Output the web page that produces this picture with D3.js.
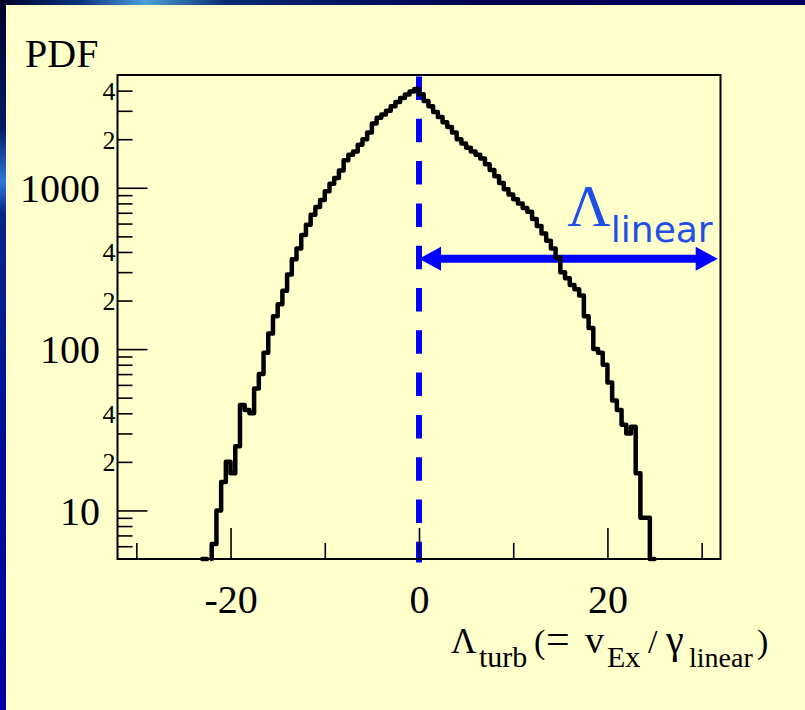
<!DOCTYPE html>
<html>
<head>
<meta charset="utf-8">
<script src="https://cdn.jsdelivr.net/npm/d3@7"></script>
<style>
  html, body { margin: 0; padding: 0; background: #ffffcc; }
  svg { display: block; }
</style>
</head>
<body>
<svg id="chart" width="805" height="710"></svg>
<script>
// Histogram of the turbulent shearing rate, first bin edge and bin width
const lambdaStart = -23;
const binWidth = 0.5;
// Counts per bin (PDF), bins from -23 to 25
const pdfCounts = [
  5, 0, 6.2, 10, 15, 20, 17, 25, 45, 42,
  40, 57, 70, 95, 125, 160, 190, 230, 290, 360,
  420, 510, 590, 680, 760, 840, 950, 1060, 1150, 1280,
  1480, 1600, 1680, 1850, 2000, 2200, 2500, 2720, 2850, 3000,
  3200, 3400, 3600, 3780, 3950, 4100,
  3800, 3450, 3200, 2950, 2750, 2550, 2380, 2200, 2000, 1880,
  1770, 1680, 1600, 1520, 1400, 1290, 1180, 1070, 980, 910,
  850, 800, 750, 710, 640, 580, 520, 470, 420, 370,
  300, 275, 250, 235, 215, 160, 135, 100, 95, 80,
  62, 48, 42, 34, 30, 33, 17, 9, 9, 5
];

// Axis ranges and tick values
const xDomain = [-32, 32];
const yDomain = [5, 5000];
const xTicksMajor = [-20, 0, 20];
const xTicksMinor = [-30, -10, 10, 30];
const yDecades = [10, 100, 1000];
const yMinorDigits = [2, 3, 4, 5, 6, 7, 8, 9];
const yLabelledDigits = [2, 4];

// Reference line at zero and the linear-growth-rate width
const zeroLambda = 0;
const linearSpan = [0, 31.7];
const linearSpanLevel = 363;

const svg = d3.select("#chart");
const W = 805, H = 710;
const frame = { left: 117.5, right: 720.5, top: 75, bottom: 559 };

const x = d3.scaleLinear().domain(xDomain).range([frame.left, frame.right]);
const y = d3.scaleLog().domain(yDomain).range([frame.bottom, frame.top]);

// ---- slide background with dark blue edges ----
const defs = svg.append("defs");
const gl = defs.append("linearGradient").attr("id", "edgeLeft")
  .attr("x1", 0).attr("y1", 0).attr("x2", 0).attr("y2", 1);
[[0, "#000028"], [0.18, "#001a66"], [0.255, "#2f78d8"], [0.3, "#06268a"], [0.6, "#00109a"], [1, "#0000a8"]]
  .forEach(([o, c]) => gl.append("stop").attr("offset", o).attr("stop-color", c));
const gt = defs.append("linearGradient").attr("id", "edgeTop")
  .attr("x1", 0).attr("y1", 0).attr("x2", 1).attr("y2", 0);
[[0, "#000028"], [0.1, "#0a3480"], [0.18, "#4aa0d8"], [0.28, "#0a2a70"], [0.6, "#000050"], [1, "#000060"]]
  .forEach(([o, c]) => gt.append("stop").attr("offset", o).attr("stop-color", c));

svg.append("rect").attr("width", W).attr("height", H).attr("fill", "#ffffcc");
svg.append("rect").attr("x", 0).attr("y", 0).attr("width", W).attr("height", 5).attr("fill", "url(#edgeTop)");
svg.append("rect").attr("x", 0).attr("y", 0).attr("width", 6).attr("height", H).attr("fill", "url(#edgeLeft)");

// ---- dashed reference line at zero ----
svg.append("line")
  .attr("x1", x(zeroLambda)).attr("x2", x(zeroLambda))
  .attr("y1", frame.top + 1.5).attr("y2", frame.bottom + 3.5)
  .attr("stroke", "#0000ff").attr("stroke-width", 6)
  .attr("stroke-dasharray", "23.5 18.8");

// ---- double-headed arrow for the linear width ----
const ay = y(linearSpanLevel);
const ax0 = x(linearSpan[0]), ax1 = x(linearSpan[1]);
const headLen = 22, headHalf = 12;
svg.append("line")
  .attr("x1", ax0 + headLen - 2).attr("x2", ax1 - headLen + 2)
  .attr("y1", ay).attr("y2", ay)
  .attr("stroke", "#0000ff").attr("stroke-width", 8);
svg.append("path")
  .attr("d", `M${ax0},${ay} L${ax0 + headLen},${ay - headHalf} L${ax0 + headLen},${ay + headHalf} Z`)
  .attr("fill", "#0000ff");
svg.append("path")
  .attr("d", `M${ax1},${ay} L${ax1 - headLen},${ay - headHalf} L${ax1 - headLen},${ay + headHalf} Z`)
  .attr("fill", "#0000ff");

const lin = svg.append("text")
  .attr("x", ax1 - 5).attr("y", ay - 32.5)
  .attr("text-anchor", "end")
  .attr("fill", "#1f4fe6");
lin.append("tspan")
  .attr("font-family", "'Liberation Serif', 'Times New Roman', serif")
  .attr("font-size", 60).text("Λ");
lin.append("tspan")
  .attr("font-family", "'DejaVu Sans', Verdana, sans-serif")
  .attr("font-size", 36).attr("dy", 15.7).text("linear");

// ---- histogram as a step line ----
const bins = pdfCounts.map((v, i) => ({
  lo: lambdaStart + i * binWidth,
  hi: lambdaStart + (i + 1) * binWidth,
  v
}));
const pts = [];
bins.forEach((b, i) => {
  if (b.v <= 0) { pts.push(null); return; }
  const prev = bins[i - 1], next = bins[i + 1];
  if (!prev || prev.v <= 0) pts.push([b.lo, yDomain[0]]);
  pts.push([b.lo, b.v], [b.hi, b.v]);
  if (!next || next.v <= 0) pts.push([b.hi, yDomain[0]]);
});
const histLine = d3.line()
  .defined(d => d !== null)
  .x(d => x(d[0]))
  .y(d => y(Math.max(d[1], yDomain[0])));
svg.append("path")
  .attr("d", histLine(pts))
  .attr("fill", "none")
  .attr("stroke", "#000")
  .attr("stroke-width", 4.5)
  .attr("stroke-linejoin", "round")
  .attr("stroke-linecap", "round");

// ---- frame ----
svg.append("rect")
  .attr("x", frame.left).attr("y", frame.top)
  .attr("width", frame.right - frame.left).attr("height", frame.bottom - frame.top)
  .attr("fill", "none").attr("stroke", "#000").attr("stroke-width", 2);

// ---- x ticks (pointing inward) ----
const serif = "'Liberation Serif', 'Times New Roman', serif";
const xAxis = d3.axisBottom(x).tickValues(xTicksMajor).tickSize(-31).tickFormat(d3.format("d"));
const gx = svg.append("g").attr("transform", `translate(0,${frame.bottom})`).call(xAxis);
gx.select(".domain").remove();
gx.selectAll(".tick line").attr("stroke", "#000").attr("stroke-width", 1.6);
gx.selectAll(".tick text")
  .attr("font-family", serif).attr("font-size", 40).attr("fill", "#000")
  .attr("y", 0).attr("dy", 54)
  .text(d => d < 0 ? "-" + Math.abs(d) : String(d));
const xMinorAxis = d3.axisBottom(x).tickValues(xTicksMinor).tickSize(-16).tickFormat("");
const gxm = svg.append("g").attr("transform", `translate(0,${frame.bottom})`).call(xMinorAxis);
gxm.select(".domain").remove();
gxm.selectAll(".tick line").attr("stroke", "#000").attr("stroke-width", 1.6);

// ---- y ticks (log scale, pointing inward) ----
const yMinor = [];
[1, 10, 100, 1000].forEach(d => yMinorDigits.forEach(k => {
  const v = k * d;
  if (v > yDomain[0] && v < yDomain[1]) yMinor.push(v);
}));
const yAxisMajor = d3.axisLeft(y).tickValues(yDecades).tickSize(-30).tickFormat(d3.format("d"));
const gy = svg.append("g").attr("transform", `translate(${frame.left},0)`).call(yAxisMajor);
gy.select(".domain").remove();
gy.selectAll(".tick line").attr("stroke", "#000").attr("stroke-width", 1.6);
gy.selectAll(".tick text")
  .attr("font-family", serif).attr("font-size", 40).attr("fill", "#000")
  .attr("x", -17.5).attr("dy", "0.34em");

const yAxisMinor = d3.axisLeft(y).tickValues(yMinor).tickSize(-15)
  .tickFormat(v => {
    const k = Math.round(v / Math.pow(10, Math.floor(Math.log10(v) + 1e-9)));
    return yLabelledDigits.includes(k) ? String(k) : "";
  });
const gym = svg.append("g").attr("transform", `translate(${frame.left},0)`).call(yAxisMinor);
gym.select(".domain").remove();
gym.selectAll(".tick line").attr("stroke", "#000").attr("stroke-width", 1.6);
gym.selectAll(".tick text")
  .attr("font-family", serif).attr("font-size", 26).attr("fill", "#000")
  .attr("x", -2).attr("dy", "0.34em");

// ---- axis titles ----
svg.append("text")
  .attr("x", 25).attr("y", 67)
  .attr("font-family", serif).attr("font-size", 40).attr("fill", "#000")
  .text("PDF");

const base = 653.3, subBase = 666.7;
const title = svg.append("text")
  .attr("font-family", serif).attr("fill", "#000");
[
  { t: "Λ", x: 451, y: base, s: 35 },
  { t: "turb", x: 479, y: subBase, s: 30 },
  { t: "(", x: 534, y: base, s: 34 },
  { t: "=", x: 546, y: base, s: 42 },
  { t: "v", x: 585, y: base, s: 38 },
  { t: "Ex", x: 607, y: subBase, s: 30 },
  { t: "/", x: 648, y: base, s: 34 },
  { t: "γ", x: 666, y: base, s: 40 },
  { t: "linear", x: 689, y: subBase, s: 28 },
  { t: ")", x: 757, y: base, s: 34 }
].forEach(p => title.append("tspan")
  .attr("x", p.x).attr("y", p.y).attr("font-size", p.s).text(p.t));
</script>
</body>
</html>
